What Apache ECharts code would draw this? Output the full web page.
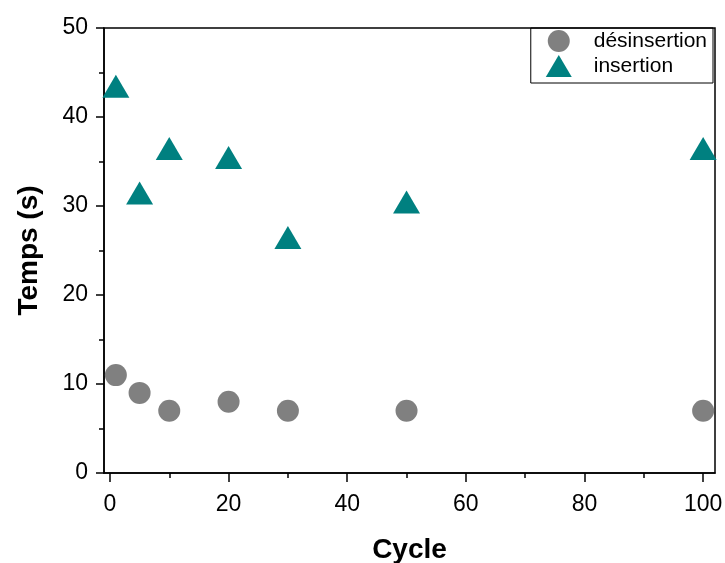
<!DOCTYPE html>
<html>
<head>
<meta charset="utf-8">
<script src="https://cdn.jsdelivr.net/npm/echarts@6/dist/echarts.min.js"></script>
<style>html,body{margin:0;padding:0;background:#fff}#c{width:725px;height:563px}</style>
</head>
<body>
<div id="c"></div>
<script>
const cycles = [1, 5, 10, 20, 30, 50, 100];
const desinsertion = [11, 9, 7, 8, 7, 7, 7];
const insertion = [43, 31, 36, 35, 26, 30, 36];
const xMajorTicks = [0, 20, 40, 60, 80, 100];
const xMinorTicks = [10, 30, 50, 70, 90];
const seriesNames = ['désinsertion', 'insertion'];
const xTitle = 'Cycle';
const yTitle = 'Temps (s)';

const FONT = 'Liberation Sans, Arial, sans-serif';
const chart = echarts.init(document.getElementById('c'), null, {renderer: 'canvas'});
const pairs = (ys) => cycles.map((c, i) => [c, ys[i]]);

chart.setOption({
  animation: false,
  backgroundColor: '#fff',
  grid: {left: 104, right: 10, top: 28, bottom: 90, containLabel: false, outerBoundsMode: 'none',
         show: true, borderColor: '#000', borderWidth: 1.5, backgroundColor: 'transparent'},
  legend: {
    orient: 'vertical', right: 12, top: 28,
    borderColor: '#000', borderWidth: 1, borderRadius: 0,
    padding: [2, 6, 6, 15], itemGap: 3, itemWidth: 26, itemHeight: 22,
    textStyle: {fontFamily: FONT, fontSize: 21, color: '#000', padding: [0, 0, 0, 17]},
    data: [{name: seriesNames[0], icon: 'circle'}, {name: seriesNames[1], icon: 'triangle'}]
  },
  xAxis: [{
    type: 'value', min: -1, max: 102, position: 'bottom',
    name: xTitle, nameLocation: 'middle', nameGap: 63,
    nameTextStyle: {fontFamily: FONT, fontSize: 28, fontWeight: 'bold', color: '#000'},
    axisLine: {show: true, onZero: false, lineStyle: {color: '#000', width: 1.5}},
    axisTick: {show: true, inside: false, length: 9, lineStyle: {color: '#000', width: 1.5}, customValues: xMajorTicks},
    axisLabel: {fontFamily: FONT, fontSize: 23, color: '#000', margin: 20, customValues: xMajorTicks},
    splitLine: {show: false}
  }, {
    type: 'value', min: -1, max: 102, position: 'bottom', gridIndex: 0,
    axisLine: {show: false, onZero: false},
    axisTick: {show: true, inside: false, length: 5, lineStyle: {color: '#000', width: 1.5}, customValues: xMinorTicks},
    axisLabel: {show: false},
    splitLine: {show: false}
  }],
  yAxis: {
    type: 'value', min: 0, max: 50, interval: 10,
    name: yTitle, nameLocation: 'middle', nameGap: 61,
    nameTextStyle: {fontFamily: FONT, fontSize: 28, fontWeight: 'bold', color: '#000'},
    axisLine: {show: true, onZero: false, lineStyle: {color: '#000', width: 1.5}},
    axisTick: {show: true, inside: false, length: 8, lineStyle: {color: '#000', width: 1.5}},
    minorTick: {show: true, splitNumber: 2, length: 5, lineStyle: {color: '#000', width: 1.5}},
    axisLabel: {fontFamily: FONT, fontSize: 23, color: '#000', margin: 16},
    splitLine: {show: false}
  },
  series: [{
    name: seriesNames[0], type: 'scatter', xAxisIndex: 0, symbol: 'circle', symbolSize: 22,
    itemStyle: {color: '#808080', opacity: 1}, data: pairs(desinsertion)
  }, {
    name: seriesNames[1], type: 'scatter', xAxisIndex: 0, symbol: 'triangle', symbolSize: [27, 23], symbolOffset: [0, -4],
    itemStyle: {color: '#008080', opacity: 1}, data: pairs(insertion)
  }]
});
</script>
</body>
</html>
